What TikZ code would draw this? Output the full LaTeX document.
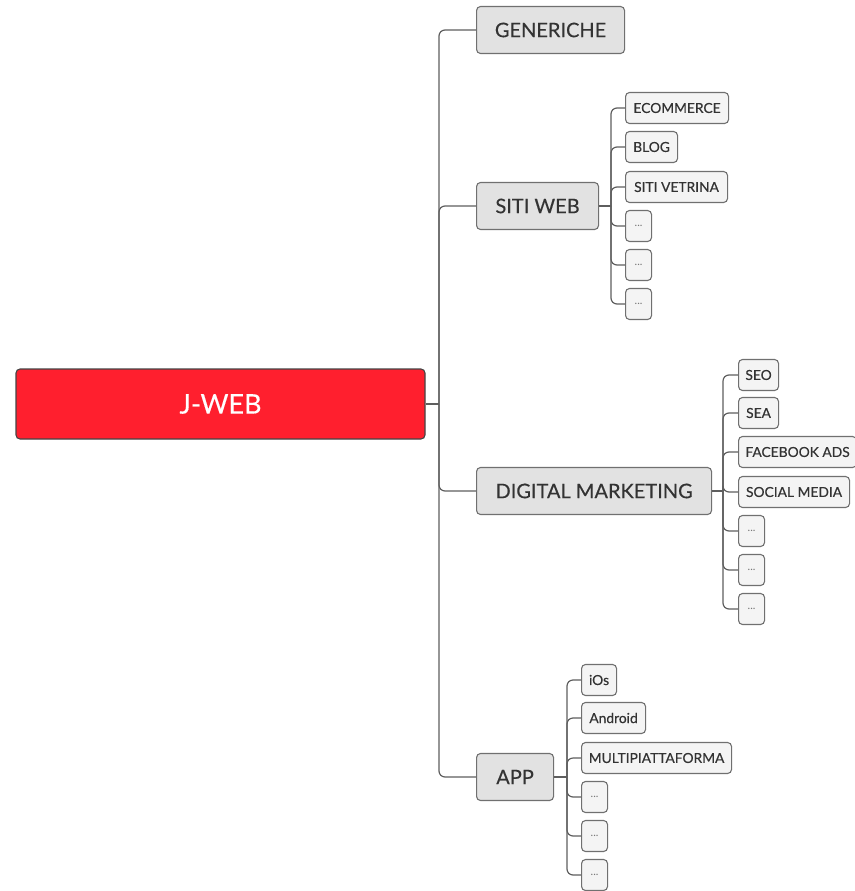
\documentclass[tikz,border=0pt]{standalone}
\usepackage{fontspec}
\setmainfont{Lato}
\newfontfamily\mapfont[FakeBold=0.35]{Lato}
\definecolor{rootred}{HTML}{FF1F2E}
\definecolor{rootline}{HTML}{444444}
\definecolor{topicfill}{HTML}{E2E2E2}
\definecolor{leaffill}{HTML}{F4F4F4}
\definecolor{boxline}{HTML}{707070}
\definecolor{linkgray}{HTML}{5E5E5E}
\definecolor{textgray}{HTML}{333333}
\definecolor{dotgray}{HTML}{777777}
\begin{document}
\begin{tikzpicture}[x=1pt,y=-1pt,
  box/.style={draw=boxline, rounded corners=4pt, line width=1.1pt, inner sep=0pt,
              align=center, text=textgray},
  rootbox/.style={box, fill=rootred, draw=rootline, text=white,
                  font=\mapfont\fontsize{27}{32}\selectfont,
                  minimum height=70pt, minimum width=409pt},
  topic/.style={box, fill=topicfill, minimum height=47pt,
                font=\mapfont\fontsize{20}{24}\selectfont, anchor=west, minimum width=#1},
  leaf/.style={box, fill=leaffill, minimum height=31pt,
               font=\mapfont\fontsize{13.8}{16}\selectfont, anchor=west, minimum width=#1},
  more/.style={leaf=26pt, text=dotgray, font=\fontsize{11}{13}\selectfont},
  link/.style={draw=linkgray, line width=1.2pt, rounded corners=6pt}]
\useasboundingbox (0,0) rectangle (854,891);

% central topic
\node[rootbox] (root) at (220.5,404) {J-WEB};

% main branches
\node[topic=148pt] (gen) at (476,30)  {GENERICHE};
\node[topic=122pt] (sw)  at (476,206) {SITI WEB};
\node[topic=235pt] (dm)  at (476,491) {DIGITAL MARKETING};
\node[topic=77pt]  (app) at (476,777) {APP};

% web sites
\node[leaf=103pt] (sw1) at (625,108) {ECOMMERCE};
\node[leaf=52pt]  (sw2) at (625,147) {BLOG};
\node[leaf=102pt] (sw3) at (625,187) {SITI VETRINA};
\node[more] (sw4) at (625,226) {...};
\node[more] (sw5) at (625,265) {...};
\node[more] (sw6) at (625,304) {...};

% digital marketing
\node[leaf=40pt]  (dm1) at (738,375) {SEO};
\node[leaf=40pt]  (dm2) at (738,413) {SEA};
\node[leaf=118pt] (dm3) at (738,452) {FACEBOOK ADS};
\node[leaf=111pt] (dm4) at (738,492) {SOCIAL MEDIA};
\node[more] (dm5) at (738,531) {...};
\node[more] (dm6) at (738,570) {...};
\node[more] (dm7) at (738,609) {...};

% apps
\node[leaf=35pt]  (ap1) at (581,680) {iOs};
\node[leaf=64pt]  (ap2) at (581,718) {Android};
\node[leaf=150pt] (ap3) at (581,758) {MULTIPIATTAFORMA};
\node[more] (ap4) at (581,797) {...};
\node[more] (ap5) at (581,836) {...};
\node[more] (ap6) at (581,875) {...};

% junction points of the trunks
\coordinate (hub)  at (439,404);
\coordinate (swj)  at (611,206);
\coordinate (dmj)  at (723,491);
\coordinate (appj) at (567,777);

% connectors
\draw[link] (root.east) -- (hub);
\foreach \t in {gen,sw,dm,app} \draw[link] (hub) |- (\t.west);

\draw[link] (sw.east) -- (swj);
\foreach \t in {sw1,sw2,sw3,sw4,sw5,sw6} \draw[link] (swj) |- (\t.west);

\draw[link] (dm.east) -- (dmj);
\foreach \t in {dm1,dm2,dm3,dm4,dm5,dm6,dm7} \draw[link] (dmj) |- (\t.west);

\draw[link] (app.east) -- (appj);
\foreach \t in {ap1,ap2,ap3,ap4,ap5,ap6} \draw[link] (appj) |- (\t.west);
\end{tikzpicture}
\end{document}
